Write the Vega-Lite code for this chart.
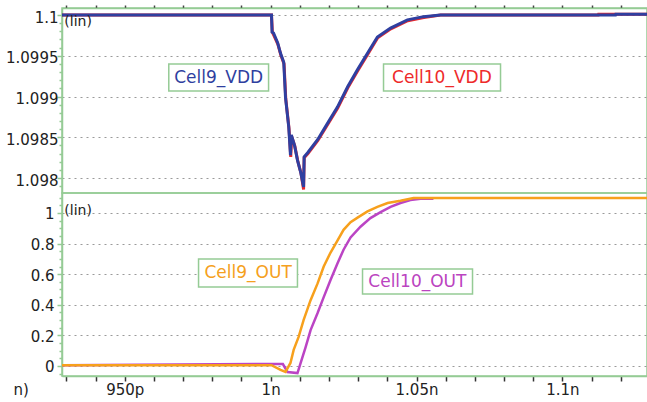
{
  "$schema": "https://vega.github.io/schema/vega-lite/v6.json",
  "background": "white",
  "padding": {"left": 4, "top": 3, "right": 0, "bottom": 0},
  "spacing": 0,
  "bounds": "flush",
  "config": {
    "font": "DejaVu Sans",
    "view": {"stroke": "#95cb95", "strokeWidth": 1.5},
    "axis": {"labelFont": "DejaVu Sans", "labelFontSize": 15, "labelColor": "#222222", "domainColor": "#95cb95", "domainWidth": 1.5}
  },
  "resolve": {"scale": {"color": "independent"}},
  "datasets": {
    "vdd": [
      {"series": "Cell10_VDD", "t": 928.5, "v": 1.1},
      {"series": "Cell10_VDD", "t": 1000.3, "v": 1.1},
      {"series": "Cell10_VDD", "t": 1000.6, "v": 1.09979},
      {"series": "Cell10_VDD", "t": 1002.5, "v": 1.09964},
      {"series": "Cell10_VDD", "t": 1003.5, "v": 1.09951},
      {"series": "Cell10_VDD", "t": 1004.6, "v": 1.0994},
      {"series": "Cell10_VDD", "t": 1005.2, "v": 1.09897},
      {"series": "Cell10_VDD", "t": 1006.3, "v": 1.09861},
      {"series": "Cell10_VDD", "t": 1006.9, "v": 1.09826},
      {"series": "Cell10_VDD", "t": 1007.2, "v": 1.09851},
      {"series": "Cell10_VDD", "t": 1008.3, "v": 1.09839},
      {"series": "Cell10_VDD", "t": 1009.3, "v": 1.09821},
      {"series": "Cell10_VDD", "t": 1010.4, "v": 1.09806},
      {"series": "Cell10_VDD", "t": 1011.3, "v": 1.09786},
      {"series": "Cell10_VDD", "t": 1011.5, "v": 1.09825},
      {"series": "Cell10_VDD", "t": 1012.8, "v": 1.0983},
      {"series": "Cell10_VDD", "t": 1016.2, "v": 1.09846},
      {"series": "Cell10_VDD", "t": 1019.6, "v": 1.09866},
      {"series": "Cell10_VDD", "t": 1023.0, "v": 1.09886},
      {"series": "Cell10_VDD", "t": 1026.5, "v": 1.09911},
      {"series": "Cell10_VDD", "t": 1029.9, "v": 1.09932},
      {"series": "Cell10_VDD", "t": 1033.3, "v": 1.09952},
      {"series": "Cell10_VDD", "t": 1036.7, "v": 1.09972},
      {"series": "Cell10_VDD", "t": 1041.2, "v": 1.09983},
      {"series": "Cell10_VDD", "t": 1047.0, "v": 1.09993},
      {"series": "Cell10_VDD", "t": 1052.5, "v": 1.09997},
      {"series": "Cell10_VDD", "t": 1058.3, "v": 1.1},
      {"series": "Cell10_VDD", "t": 1112.3, "v": 1.1},
      {"series": "Cell10_VDD", "t": 1112.4, "v": 1.10001},
      {"series": "Cell10_VDD", "t": 1129, "v": 1.10001},
      {"series": "Cell9_VDD", "t": 928.5, "v": 1.1},
      {"series": "Cell9_VDD", "t": 1000.3, "v": 1.1},
      {"series": "Cell9_VDD", "t": 1000.5, "v": 1.09979},
      {"series": "Cell9_VDD", "t": 1001.0, "v": 1.09978},
      {"series": "Cell9_VDD", "t": 1002.4, "v": 1.09966},
      {"series": "Cell9_VDD", "t": 1003.4, "v": 1.09953},
      {"series": "Cell9_VDD", "t": 1004.5, "v": 1.09942},
      {"series": "Cell9_VDD", "t": 1005.1, "v": 1.09899},
      {"series": "Cell9_VDD", "t": 1006.2, "v": 1.09863},
      {"series": "Cell9_VDD", "t": 1006.8, "v": 1.09828},
      {"series": "Cell9_VDD", "t": 1007.1, "v": 1.09853},
      {"series": "Cell9_VDD", "t": 1008.2, "v": 1.0984},
      {"series": "Cell9_VDD", "t": 1009.2, "v": 1.09822},
      {"series": "Cell9_VDD", "t": 1010.3, "v": 1.09807},
      {"series": "Cell9_VDD", "t": 1011.3, "v": 1.09789},
      {"series": "Cell9_VDD", "t": 1011.5, "v": 1.09826},
      {"series": "Cell9_VDD", "t": 1012.7, "v": 1.09831},
      {"series": "Cell9_VDD", "t": 1016.1, "v": 1.09847},
      {"series": "Cell9_VDD", "t": 1019.5, "v": 1.09867},
      {"series": "Cell9_VDD", "t": 1022.9, "v": 1.09887},
      {"series": "Cell9_VDD", "t": 1026.4, "v": 1.09912},
      {"series": "Cell9_VDD", "t": 1029.8, "v": 1.09933},
      {"series": "Cell9_VDD", "t": 1033.2, "v": 1.09953},
      {"series": "Cell9_VDD", "t": 1036.6, "v": 1.09973},
      {"series": "Cell9_VDD", "t": 1041.1, "v": 1.09984},
      {"series": "Cell9_VDD", "t": 1046.9, "v": 1.09994},
      {"series": "Cell9_VDD", "t": 1052.4, "v": 1.09998},
      {"series": "Cell9_VDD", "t": 1058.2, "v": 1.1},
      {"series": "Cell9_VDD", "t": 1118.2, "v": 1.1},
      {"series": "Cell9_VDD", "t": 1118.3, "v": 1.10001},
      {"series": "Cell9_VDD", "t": 1129, "v": 1.10001}
    ],
    "out": [
      {"series": "Cell10_OUT", "t": 928.5, "v": 0.005},
      {"series": "Cell10_OUT", "t": 1000.3, "v": 0.013},
      {"series": "Cell10_OUT", "t": 1004.2, "v": 0.013},
      {"series": "Cell10_OUT", "t": 1005.8, "v": -0.039},
      {"series": "Cell10_OUT", "t": 1009.2, "v": -0.046},
      {"series": "Cell10_OUT", "t": 1010.3, "v": 0.02},
      {"series": "Cell10_OUT", "t": 1012.0, "v": 0.124},
      {"series": "Cell10_OUT", "t": 1013.7, "v": 0.235},
      {"series": "Cell10_OUT", "t": 1016.1, "v": 0.346},
      {"series": "Cell10_OUT", "t": 1018.2, "v": 0.45},
      {"series": "Cell10_OUT", "t": 1020.5, "v": 0.56},
      {"series": "Cell10_OUT", "t": 1022.9, "v": 0.67},
      {"series": "Cell10_OUT", "t": 1025.0, "v": 0.76},
      {"series": "Cell10_OUT", "t": 1027.4, "v": 0.84},
      {"series": "Cell10_OUT", "t": 1030.8, "v": 0.91},
      {"series": "Cell10_OUT", "t": 1034.2, "v": 0.967},
      {"series": "Cell10_OUT", "t": 1037.7, "v": 1.006},
      {"series": "Cell10_OUT", "t": 1041.1, "v": 1.04},
      {"series": "Cell10_OUT", "t": 1044.5, "v": 1.065},
      {"series": "Cell10_OUT", "t": 1047.9, "v": 1.085},
      {"series": "Cell10_OUT", "t": 1051.4, "v": 1.093},
      {"series": "Cell10_OUT", "t": 1055.8, "v": 1.093},
      {"series": "Cell9_OUT", "t": 928.5, "v": 0.005},
      {"series": "Cell9_OUT", "t": 1000.3, "v": 0.005},
      {"series": "Cell9_OUT", "t": 1003.4, "v": -0.026},
      {"series": "Cell9_OUT", "t": 1005.1, "v": -0.039},
      {"series": "Cell9_OUT", "t": 1006.8, "v": 0.02},
      {"series": "Cell9_OUT", "t": 1007.9, "v": 0.105},
      {"series": "Cell9_OUT", "t": 1009.6, "v": 0.19},
      {"series": "Cell9_OUT", "t": 1011.3, "v": 0.3},
      {"series": "Cell9_OUT", "t": 1013.7, "v": 0.43},
      {"series": "Cell9_OUT", "t": 1016.1, "v": 0.54},
      {"series": "Cell9_OUT", "t": 1018.2, "v": 0.65},
      {"series": "Cell9_OUT", "t": 1020.5, "v": 0.74},
      {"series": "Cell9_OUT", "t": 1022.9, "v": 0.82},
      {"series": "Cell9_OUT", "t": 1025.0, "v": 0.89},
      {"series": "Cell9_OUT", "t": 1027.4, "v": 0.94},
      {"series": "Cell9_OUT", "t": 1029.8, "v": 0.97},
      {"series": "Cell9_OUT", "t": 1033.2, "v": 1.01},
      {"series": "Cell9_OUT", "t": 1036.6, "v": 1.04},
      {"series": "Cell9_OUT", "t": 1040.1, "v": 1.065},
      {"series": "Cell9_OUT", "t": 1044.5, "v": 1.08},
      {"series": "Cell9_OUT", "t": 1049.0, "v": 1.098},
      {"series": "Cell9_OUT", "t": 1129, "v": 1.098}
    ],
    "boxes": [
      {"panel": "VDD", "label": "Cell9_VDD", "t": 965.1, "t2": 999.3, "v": 1.0994, "v2": 1.099067},
      {"panel": "VDD", "label": "Cell10_VDD", "t": 1038.7, "t2": 1078.8, "v": 1.0994, "v2": 1.099067},
      {"panel": "OUT", "label": "Cell9_OUT", "t": 975.3, "t2": 1009.2, "v": 0.699, "v2": 0.516},
      {"panel": "OUT", "label": "Cell10_OUT", "t": 1031.5, "t2": 1069.2, "v": 0.634, "v2": 0.471}
    ],
    "tags": [
      {"panel": "VDD", "label": "Cell9_VDD", "t": 982.2, "v": 1.09923},
      {"panel": "VDD", "label": "Cell10_VDD", "t": 1058.7, "v": 1.09923},
      {"panel": "OUT", "label": "Cell9_OUT", "t": 992.3, "v": 0.608},
      {"panel": "OUT", "label": "Cell10_OUT", "t": 1050.3, "v": 0.552}
    ],
    "lin": [
      {"panel": "VDD", "label": "(lin)", "t": 929.3, "v": 1.09991},
      {"panel": "OUT", "label": "(lin)", "t": 929.3, "v": 1.013}
    ]
  },
  "vconcat": [
    {
      "width": 585,
      "height": 185,
      "encoding": {
        "x": {"field": "t", "type": "quantitative", "scale": {"domain": [928.5, 1129], "nice": false, "zero": false},
          "axis": {"orient": "top", "title": null, "values": [930,940,950,960,970,980,990,1000,1010,1020,1030,1040,1050,1060,1070,1080,1090,1100,1110,1120], "labels": false, "tickSize": 3, "tickColor": "#444444", "tickWidth": 1.5, "grid": false}},
        "y": {"field": "v", "type": "quantitative", "scale": {"domain": [1.097816, 1.100086], "nice": false, "zero": false},
          "axis": {"orient": "left", "title": null,
            "values": [1.0979,1.098,1.0981,1.0982,1.0983,1.0984,1.0985,1.0986,1.0987,1.0988,1.0989,1.099,1.0991,1.0992,1.0993,1.0994,1.0995,1.0996,1.0997,1.0998,1.0999,1.1],
            "labelExpr": "abs(datum.value*2000 - round(datum.value*2000)) < 0.01 ? format(datum.value, '~g') : ''",
            "labelBaseline": "middle", "labelOffset": 2, "labelPadding": -1,
            "tickColor": "#95cb95", "tickWidth": 1.5,
            "tickSize": {"condition": {"test": "abs(datum.value*2000 - round(datum.value*2000)) < 0.01", "value": 5}, "value": 3},
            "grid": true, "gridColor": "#9a9a9a", "gridDash": [2, 4], "gridWidth": 1,
            "gridOpacity": {"condition": {"test": "abs(datum.value*2000 - round(datum.value*2000)) < 0.01", "value": 1}, "value": 0}}}
      },
      "layer": [
        {"data": {"name": "vdd"}, "transform": [{"filter": "datum.series === 'Cell10_VDD'"}], "mark": {"type": "line", "color": "#e8282c", "strokeWidth": 3, "clip": true}},
        {"data": {"name": "vdd"}, "transform": [{"filter": "datum.series === 'Cell9_VDD'"}], "mark": {"type": "line", "color": "#2f3fa0", "strokeWidth": 3, "clip": true}},
        {"data": {"name": "boxes"}, "transform": [{"filter": "datum.panel === 'VDD'"}], "mark": {"type": "rect", "fill": "white", "stroke": "#95cb95", "strokeWidth": 1.5}, "encoding": {"x2": {"field": "t2"}, "y2": {"field": "v2"}}},
        {"data": {"name": "tags"}, "transform": [{"filter": "datum.panel === 'VDD'"}], "mark": {"type": "text", "font": "DejaVu Sans", "fontSize": 17, "baseline": "middle", "align": "center"},
          "encoding": {"text": {"field": "label"}, "color": {"field": "label", "type": "nominal", "scale": {"domain": ["Cell9_VDD", "Cell10_VDD", "Cell9_OUT", "Cell10_OUT"], "range": ["#2f3fa0", "#ee2a2a", "#f5a020", "#bb44c0"]}, "legend": null}}},
        {"data": {"name": "lin"}, "transform": [{"filter": "datum.panel === 'VDD'"}], "mark": {"type": "text", "font": "DejaVu Sans", "fontSize": 14, "baseline": "middle", "align": "left", "color": "#222222"}, "encoding": {"text": {"field": "label"}}}
      ]
    },
    {
      "width": 585,
      "height": 183,
      "encoding": {
        "x": {"field": "t", "type": "quantitative", "scale": {"domain": [928.5, 1129], "nice": false, "zero": false},
          "axis": {"orient": "bottom", "title": "n)", "titleX": -49, "titleY": 6, "titleAlign": "left", "titleBaseline": "top", "titleFontSize": 15, "titleFontWeight": "normal", "titleColor": "#222222", "titleFont": "DejaVu Sans",
            "values": [930,940,950,960,970,980,990,1000,1010,1020,1030,1040,1050,1060,1070,1080,1090,1100,1110,1120],
            "labelExpr": "datum.value == 950 ? '950p' : datum.value == 1000 ? '1n' : datum.value == 1050 ? '1.05n' : datum.value == 1100 ? '1.1n' : ''",
            "labelPadding": 1, "labelFlush": false, "labelOverlap": false,
            "tickSize": 5, "tickColor": "#333333", "tickWidth": 1.5, "grid": false}},
        "y": {"field": "v", "type": "quantitative", "scale": {"domain": [-0.0654, 1.1307], "nice": false, "zero": false},
          "axis": {"orient": "left", "title": null,
            "values": [-0.05,0,0.05,0.1,0.15,0.2,0.25,0.3,0.35,0.4,0.45,0.5,0.55,0.6,0.65,0.7,0.75,0.8,0.85,0.9,0.95,1,1.05,1.1],
            "labelExpr": "abs(datum.value*5 - round(datum.value*5)) < 0.001 ? format(datum.value, '~g') : ''",
            "labelBaseline": "middle", "labelOffset": 1, "labelPadding": 3,
            "tickColor": "#95cb95", "tickWidth": 1.5,
            "tickSize": {"condition": {"test": "abs(datum.value*5 - round(datum.value*5)) < 0.001", "value": 5}, "value": 3},
            "grid": true, "gridColor": "#9a9a9a", "gridDash": [2, 4], "gridWidth": 1,
            "gridOpacity": {"condition": {"test": "abs(datum.value*5 - round(datum.value*5)) < 0.001", "value": 1}, "value": 0}}}
      },
      "layer": [
        {"data": {"name": "out"}, "transform": [{"filter": "datum.series === 'Cell10_OUT'"}], "mark": {"type": "line", "color": "#bb44c4", "strokeWidth": 2.5, "clip": true}},
        {"data": {"name": "out"}, "transform": [{"filter": "datum.series === 'Cell9_OUT'"}], "mark": {"type": "line", "color": "#f7a01c", "strokeWidth": 2.5, "clip": true}},
        {"data": {"name": "boxes"}, "transform": [{"filter": "datum.panel === 'OUT'"}], "mark": {"type": "rect", "fill": "white", "stroke": "#95cb95", "strokeWidth": 1.5}, "encoding": {"x2": {"field": "t2"}, "y2": {"field": "v2"}}},
        {"data": {"name": "tags"}, "transform": [{"filter": "datum.panel === 'OUT'"}], "mark": {"type": "text", "font": "DejaVu Sans", "fontSize": 17, "baseline": "middle", "align": "center"},
          "encoding": {"text": {"field": "label"}, "color": {"field": "label", "type": "nominal", "scale": {"domain": ["Cell9_VDD", "Cell10_VDD", "Cell9_OUT", "Cell10_OUT"], "range": ["#2f3fa0", "#ee2a2a", "#f5a020", "#bb44c0"]}, "legend": null}}},
        {"data": {"name": "lin"}, "transform": [{"filter": "datum.panel === 'OUT'"}], "mark": {"type": "text", "font": "DejaVu Sans", "fontSize": 14, "baseline": "middle", "align": "left", "color": "#222222"}, "encoding": {"text": {"field": "label"}}}
      ]
    }
  ]
}
